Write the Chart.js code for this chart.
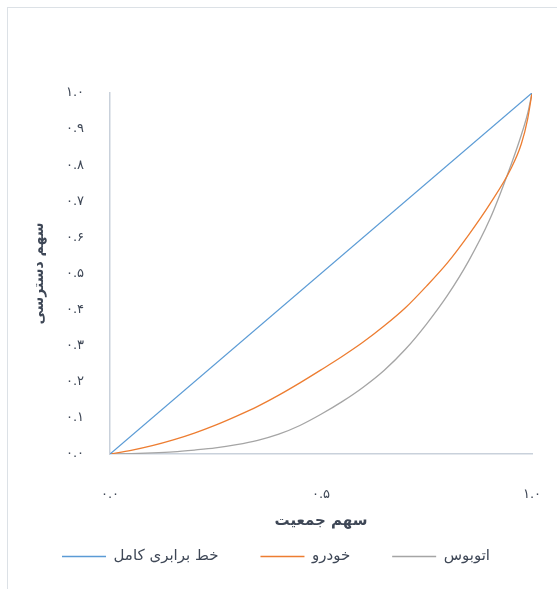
<!DOCTYPE html>
<html>
<head>
<meta charset="utf-8">
<script src="https://cdn.jsdelivr.net/npm/chart.js@4/dist/chart.umd.min.js"></script>
<style>
    html, body { margin: 0; padding: 0; background: #fff; overflow: hidden; }
    #wrap { position: relative; width: 557px; height: 589px; }
    #frame {
        position: absolute; left: 7px; top: 7px;
        width: 700px; height: 700px;
        border: 1px solid #dce1e6;
    }
    #grafico { position: absolute; left: 0; top: 0; }
</style>
</head>
<body>
<div id="wrap">
    <div id="frame"></div>
    <canvas id="grafico" width="557" height="589"></canvas>
</div>
<script>
// =======================
// DADOS
// =======================

// sahm jamiat (x)
const sahmJamiat =
    [0, 0.05, 0.1, 0.15, 0.2, 0.25, 0.3, 0.35, 0.4, 0.45, 0.5,
     0.55, 0.6, 0.65, 0.7, 0.75, 0.8, 0.85, 0.9, 0.95, 0.975, 0.99, 1];

// khodro
const khodro =
    [0, 0.01, 0.023, 0.039, 0.058, 0.08, 0.105, 0.132, 0.163, 0.197, 0.233,
     0.27, 0.31, 0.355, 0.405, 0.465, 0.53, 0.607, 0.692, 0.79, 0.86, 0.93, 1];

// otobus
const otobus =
    [0, 0.001, 0.003, 0.006, 0.011, 0.017, 0.026, 0.038, 0.055, 0.079, 0.11,
     0.145, 0.185, 0.232, 0.29, 0.36, 0.44, 0.535, 0.65, 0.8, 0.885, 0.945, 1];

// khat barabari
const barabariX = [0, 1];
const barabariY = [0, 1];

const nomes =
    ["خط برابری کامل", "خودرو", "اتوبوس"];

const xTickLabels = ["۰.۰", "۰.۵", "۱.۰"];
const yTickLabels =
    ["۰.۰", "۰.۱", "۰.۲", "۰.۳", "۰.۴", "۰.۵",
     "۰.۶", "۰.۷", "۰.۸", "۰.۹", "۱.۰"];

const pontos = (xs, ys) =>
    xs.map((x, i) => ({ x: x, y: ys[i] }));

// =======================
// GRÁFICO
// =======================

const FONTE = "'DejaVu Sans', sans-serif";
const COR_TEXTO = "#3e4756";
const COR_EIXO = "#c9d1db";

// espaço entre itens da legenda
const ESPACO_LEGENDA = 42;
// fundo do eixo x (topo da legenda)
const FUNDO_X = 548 - ESPACO_LEGENDA;

const ctx =
    document.getElementById("grafico");

const grafico = new Chart(ctx, {
    type: "scatter",

    data: {
        datasets: [
            {
                label: nomes[0],
                data: pontos(barabariX, barabariY),
                borderColor: "#5b9bd5",
                backgroundColor: "#5b9bd5"
            },
            {
                label: nomes[1],
                data: pontos(sahmJamiat, khodro),
                borderColor: "#ed7d31",
                backgroundColor: "#ed7d31"
            },
            {
                label: nomes[2],
                data: pontos(sahmJamiat, otobus),
                borderColor: "#a5a5a5",
                backgroundColor: "#a5a5a5"
            }
        ]
    },

    options: {
        responsive: false,
        animation: false,
        datasets: {
            scatter: {
                showLine: true,
                borderWidth: 1.3,
                pointRadius: 0,
                cubicInterpolationMode: "monotone"
            }
        },
        layout: {
            padding: { left: 20, right: 25, top: 93, bottom: 15 }
        },
        plugins: {
            tooltip: { enabled: false },
            legend: {
                position: "bottom",
                labels: {
                    usePointStyle: true,
                    pointStyle: "line",
                    pointStyleWidth: 44,
                    boxHeight: 12,
                    padding: ESPACO_LEGENDA,
                    color: COR_TEXTO,
                    font: { family: FONTE, size: 15 }
                }
            }
        },
        scales: {
            x: {
                type: "linear",
                min: 0,
                max: 1,
                afterFit: (s) => { s.height = FUNDO_X - 453; },
                afterBuildTicks: (s) => {
                    s.ticks = [0, 0.5, 1].map(v => ({ value: v }));
                },
                grid: { display: false, drawTicks: true, tickLength: 33 },
                border: { color: COR_EIXO, width: 1.5 },
                ticks: {
                    padding: 0,
                    color: COR_TEXTO,
                    maxRotation: 0,
                    font: { family: FONTE, size: 13 },
                    callback: (v, i) => xTickLabels[i]
                },
                title: {
                    display: true,
                    text: "سهم جمعیت",
                    color: COR_TEXTO,
                    // centro do título em y = 520
                    padding: { top: 0, bottom: FUNDO_X - 9 - 520 },
                    font: { family: FONTE, size: 15, weight: "bold" }
                }
            },
            y: {
                min: 0,
                max: 1,
                afterFit: (s) => { s.width = 90; },
                grid: { display: false, drawTicks: true, tickLength: 26 },
                border: { color: COR_EIXO, width: 1.5 },
                ticks: {
                    stepSize: 0.1,
                    padding: 0,
                    color: COR_TEXTO,
                    font: { family: FONTE, size: 13 },
                    callback: (v, i) => yTickLabels[i]
                },
                title: {
                    display: true,
                    text: "سهم دسترسی",
                    color: COR_TEXTO,
                    padding: { top: 11, bottom: 0 },
                    font: { family: FONTE, size: 14, weight: "bold" }
                }
            }
        }
    }
});
</script>
</body>
</html>
